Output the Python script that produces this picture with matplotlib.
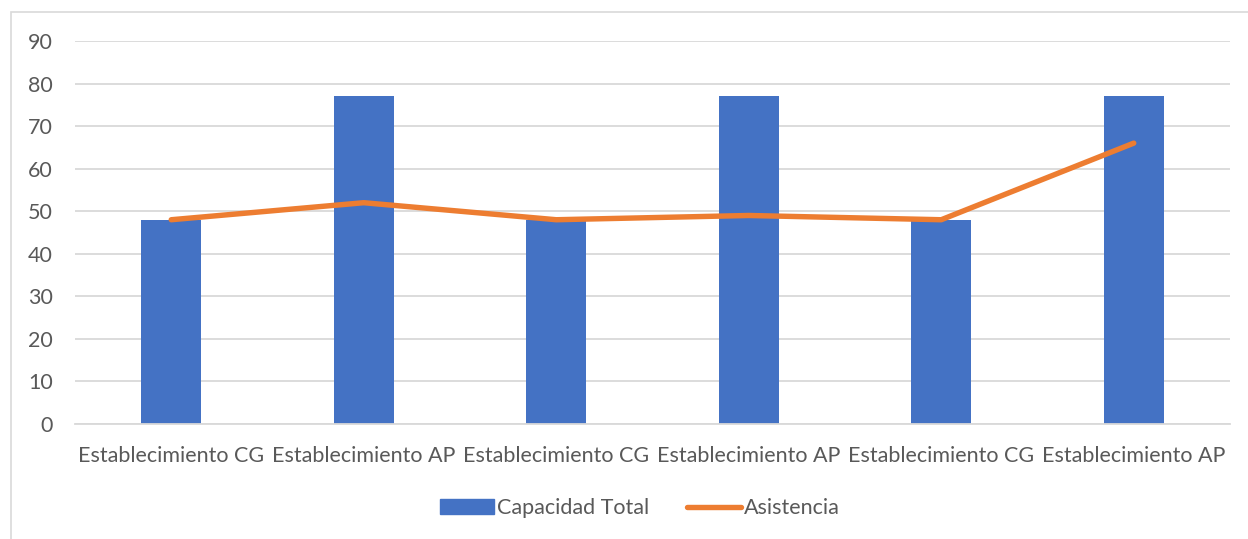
import matplotlib
matplotlib.use("Agg")
import matplotlib.pyplot as plt
from matplotlib.patches import Rectangle
from matplotlib.lines import Line2D

categories = ["Establecimiento CG", "Establecimiento AP", "Establecimiento CG",
              "Establecimiento AP", "Establecimiento CG", "Establecimiento AP"]
capacidad_total = [48, 77, 48, 77, 48, 77]
asistencia = [48, 52, 48, 49, 48, 66]
y_ticks = [0, 10, 20, 30, 40, 50, 60, 70, 80, 90]

BLUE = "#4472C4"
ORANGE = "#ED7D31"
GRID = "#D9D9D9"
TEXT = "#595959"
FS = 15.5

plt.rcParams["font.family"] = ["Lato", "DejaVu Sans"]

W, H = 1248, 539
fig = plt.figure(figsize=(W / 100, H / 100), dpi=100)
fig.patch.set_facecolor("white")

# chart frame (top and left edges visible)
fig.add_artist(Rectangle((11 / W, -0.05), 1.1, 1 - 12 / H + 0.05,
                         transform=fig.transFigure, fill=False,
                         edgecolor="#D9D9D9", linewidth=1.2))

ax = fig.add_axes([75 / W, 1 - 424 / H, (1230 - 75) / W, (424 - 41) / H])
x = list(range(len(categories)))

ax.bar(x, capacidad_total, width=0.31, color=BLUE, zorder=2,
       label="Capacidad Total")
ax.plot(x, asistencia, color=ORANGE, linewidth=3.9, solid_capstyle="round",
        solid_joinstyle="round", zorder=3, label="Asistencia")

ax.set_xlim(-0.5, len(categories) - 0.5)
ax.set_ylim(0, 90)
ax.set_yticks(y_ticks)
ax.set_xticks(x)
ax.set_xticklabels(categories)
ax.yaxis.grid(True, color=GRID, linewidth=1.3, zorder=0)
ax.set_axisbelow(True)
for s in ["top", "right", "left"]:
    ax.spines[s].set_visible(False)
ax.spines["bottom"].set_color(GRID)
ax.spines["bottom"].set_linewidth(1.3)
ax.tick_params(axis="both", length=0, colors=TEXT, labelsize=FS)
ax.tick_params(axis="y", pad=16)
ax.tick_params(axis="x", pad=16)

handles = [Rectangle((0, 0), 1, 1, color=BLUE),
           Line2D([0], [0], color=ORANGE, linewidth=3.9, solid_capstyle="round")]
leg = fig.legend(handles, ["Capacidad Total", "Asistencia"],
                 loc="center", bbox_to_anchor=(640 / W, 1 - 508 / H),
                 ncol=2, frameon=False, fontsize=FS, handlelength=2.5,
                 handleheight=0.65, handletextpad=0.15, columnspacing=1.75)
for t in leg.get_texts():
    t.set_color(TEXT)

fig.savefig("out.png", dpi=100, facecolor="white")
